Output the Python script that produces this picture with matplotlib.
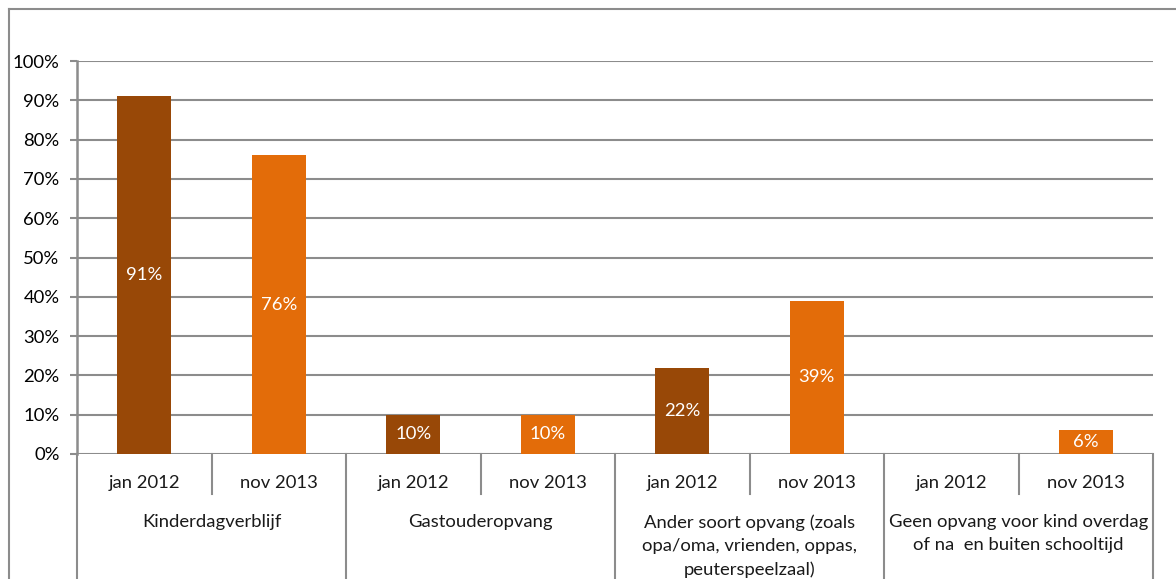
import matplotlib
matplotlib.use("Agg")
import matplotlib.pyplot as plt
from matplotlib.lines import Line2D
import numpy as np

groups = ["Kinderdagverblijf", "Gastouderopvang",
          "Ander soort opvang (zoals\nopa/oma, vrienden, oppas,\npeuterspeelzaal)",
          "Geen opvang voor kind overdag\nof na  en buiten schooltijd"]
periods = ["jan 2012", "nov 2013"]
jan_2012 = [91, 10, 22, None]
nov_2013 = [76, 10, 39, 6]
yticks = [0, 10, 20, 30, 40, 50, 60, 70, 80, 90, 100]

col_jan = "#984807"
col_nov = "#E36C09"
grid_col = "#8C8C8C"
FONT = "Lato"
FS = 13.3

W, H = 1176, 579
fig = plt.figure(figsize=(W / 100, H / 100), dpi=100)
ax = fig.add_axes([77 / W, (H - 454) / H, (1153 - 77) / W, (454 - 61) / H])

ng = len(groups)
np_ = len(periods)
series = [jan_2012, nov_2013]
colors = [col_jan, col_nov]
for si, (vals, c) in enumerate(zip(series, colors)):
    for gi, v in enumerate(vals):
        if v is None:
            continue
        x = gi * np_ + si + 0.5
        ax.bar(x, v, width=0.4, color=c, zorder=3)
        ax.text(x, v / 2, f"{v}%", ha="center", va="center", color="white",
                fontsize=FS, family=FONT, zorder=4)

ax.set_xlim(0, ng * np_)
ax.set_ylim(0, 100)
ax.set_yticks(yticks)
ax.set_yticklabels([f"{t}%" for t in yticks], family=FONT, fontsize=FS)
ax.tick_params(axis="y", length=5, width=1.5, color=grid_col, pad=7.5)
ax.set_xticks([])
for t in yticks:
    ax.axhline(t, color=grid_col, lw=1.5, zorder=1)
for s in ["top", "right", "bottom"]:
    ax.spines[s].set_visible(False)
ax.spines["left"].set_color(grid_col)
ax.spines["left"].set_linewidth(1.8)

axh = 454 - 61
tr = ax.get_xaxis_transform()
for gi in range(ng):
    for pi, p in enumerate(periods):
        x = gi * np_ + pi + 0.5
        ax.text(x, -29 / axh, p, transform=tr, ha="center", va="center",
                fontsize=FS, family=FONT, color="#1a1a1a")
    for pi in range(1, np_):
        x = gi * np_ + pi
        ax.plot([x, x], [0, -40 / axh], transform=tr, color=grid_col, lw=1.5,
                clip_on=False)
    ax.text(gi * np_ + np_ / 2, -60 / axh, groups[gi], transform=tr,
            ha="center", va="top", fontsize=FS, family=FONT,
            color="#1a1a1a", linespacing=1.55, multialignment="center")
for gi in range(ng + 1):
    x = gi * np_
    ax.plot([x, x], [0, -130 / axh], transform=tr, color=grid_col, lw=1.5,
            clip_on=False)

fig.add_artist(Line2D([9 / W, 9 / W], [(H - 9) / H, 0], color=grid_col, lw=1.5))
fig.add_artist(Line2D([9 / W, 1], [(H - 9) / H, (H - 9) / H], color=grid_col, lw=1.5))

fig.savefig("out.png", dpi=100)
